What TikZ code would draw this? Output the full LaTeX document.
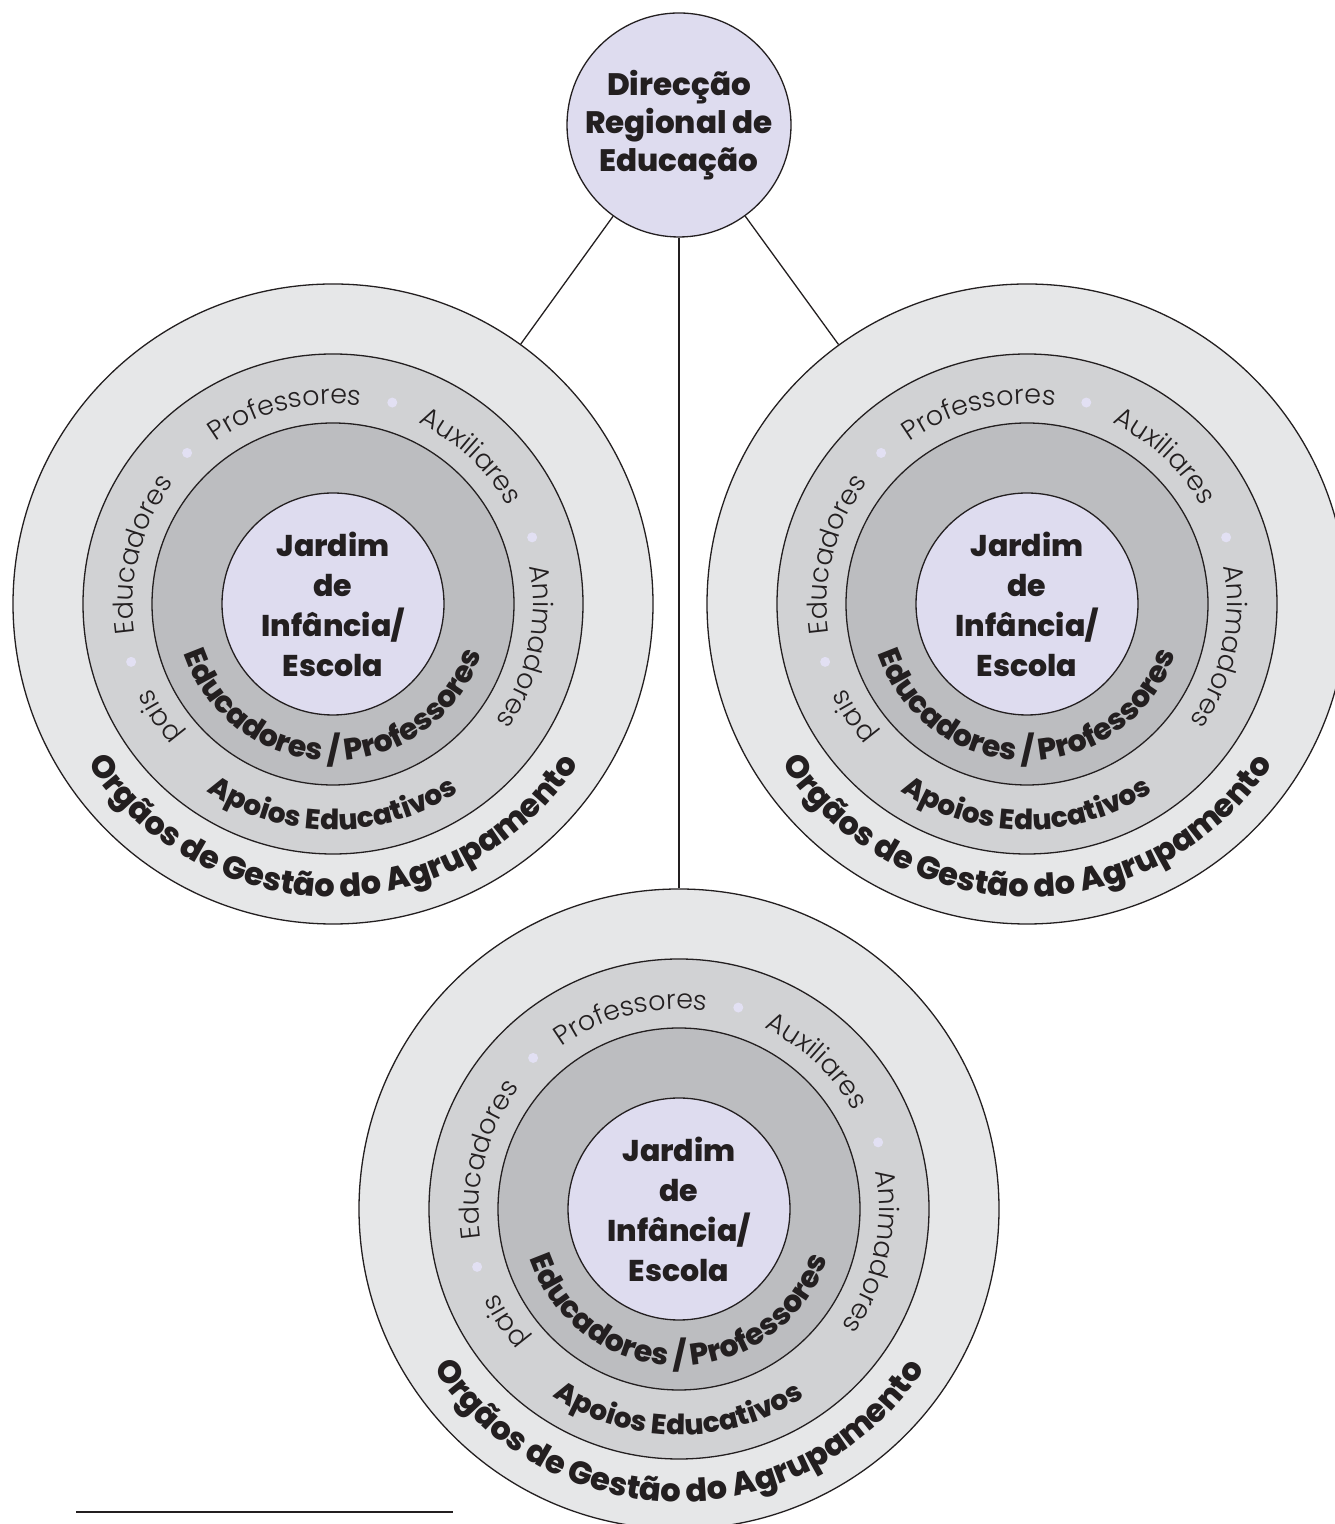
\documentclass[tikz,border=0pt]{standalone}
\usepackage{fontspec}
\setmainfont{Poppins}[BoldFont=* ExtraBold]
\newfontfamily\lightPoppins{Poppins}[UprightFont=* Light]
\usetikzlibrary{decorations.text}
\definecolor{ink}{HTML}{231F20}
\definecolor{ringOuter}{HTML}{E6E7E8}
\definecolor{ringMid}{HTML}{D1D2D4}
\definecolor{ringDark}{HTML}{BCBDC0}
\definecolor{lilac}{HTML}{DEDCEF}
\definecolor{dotLilac}{HTML}{E2E0F3}
\newcommand*{\lightWord}{\lightPoppins\fontsize{27}{27}\selectfont}
\newcommand*{\innerBold}{\bfseries\fontsize{30}{30}\selectfont}
\newcommand*{\apoioBold}{\bfseries\fontsize{28}{28}\selectfont}
\newcommand*{\orgaoBold}{\bfseries\fontsize{32}{32}\selectfont}
\newcommand*{\cwText}[5]{% x, y, radius, centre angle, word (clockwise, letters point outwards)
    \path[decorate, decoration={text along path, text align=center, text color=ink, text={|\lightWord|#5}}]
        ([shift={(#1,#2)}]#4+45:#3pt) arc[start angle=#4+45, end angle=#4-45, radius=#3pt];
}
\newcommand*{\ccwText}[5]{% x, y, radius, font, text (counter-clockwise round the bottom, letters point inwards)
    \path[decorate, decoration={text along path, text align=center, text color=ink, text={|#4|#5}}]
        ([shift={(#1,#2)}]170:#3pt) arc[start angle=170, end angle=370, radius=#3pt];
}
\newcommand*{\schoolUnit}[3]{% x, y, name
    \node[ring, fill=ringOuter, minimum size=640pt] (#3) at (#1,#2) {};
    \node[ring, fill=ringMid, minimum size=500pt] (#3-mid) at (#1,#2) {};
    \node[ring, fill=ringDark, minimum size=362pt] (#3-dark) at (#1,#2) {};
    \node[ring, fill=lilac, minimum size=222pt, font=\bfseries\fontsize{30}{40}\selectfont, align=center] (#3-core) at (#1,#2) {Jardim\\de\\Infância/\\Escola};
    \cwText{#1}{#2}{200}{213}{pais}
    \cwText{#1}{#2}{200}{165.5}{Educadores}
    \cwText{#1}{#2}{200}{104}{Professores}
    \cwText{#1}{#2}{200}{47}{Auxiliares}
    \cwText{#1}{#2}{200}{-12.5}{Animadores}
    \foreach \a in {196,134,73.6,18.5}
        \fill[dotLilac] ([shift={(#1,#2)}]\a:210pt) circle[radius=5pt];
    \ccwText{#1}{#2}{157}{\innerBold}{Educadores / Professores}
    \ccwText{#1}{#2}{226}{\apoioBold}{Apoios Educativos}
    \ccwText{#1}{#2}{293}{\orgaoBold}{Orgãos de Gestão do Agrupamento}
}

\begin{document}
\begin{tikzpicture}[x=1pt, y=1pt, ring/.style={circle, draw=ink, line width=1.3pt, inner sep=0pt, text=ink}] {
\useasboundingbox (0,0) rectangle (1335,1524);
\clip (0,0) rectangle (1335,1524);
\node[ring, fill=lilac, minimum size=224pt, font=\bfseries\fontsize{31}{38}\selectfont, align=center] (dre) at (679,1399) {Direcção\\Regional de\\Educação};
\schoolUnit{333}{920}{left}
\schoolUnit{1027}{920}{right}
\schoolUnit{679}{315}{bottom}
\draw[ink, line width=1.3pt] (dre) -- (left);
\draw[ink, line width=1.3pt] (dre) -- (right);
\draw[ink, line width=1.3pt] (dre) -- (bottom);
\draw[ink, line width=1.3pt] (76,12) -- (453,12); % rule under the figure
}\end{tikzpicture}
\end{document}
